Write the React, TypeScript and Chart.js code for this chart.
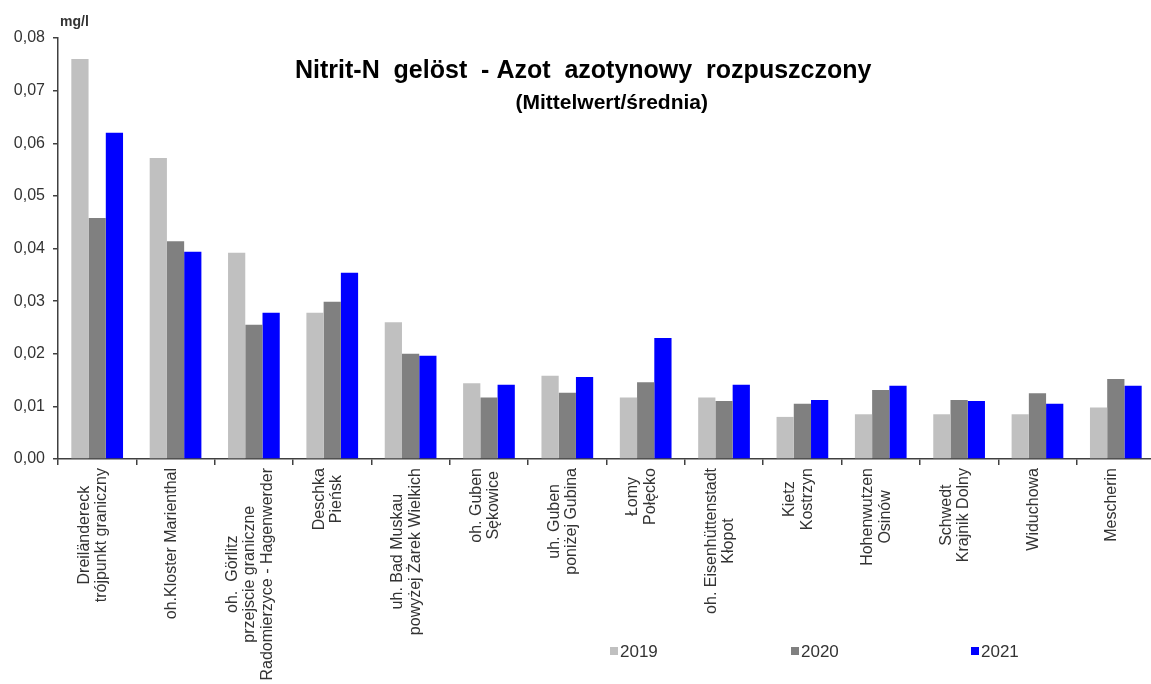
import React, { useEffect, useRef } from 'react';
import { Chart, registerables } from 'chart.js';

Chart.register(...registerables);

const categories: string[][] = [
  ['Dreiländereck', 'trójpunkt graniczny'],
  ['oh.Kloster Marienthal'],
  ['oh.  Görlitz', 'przejscie graniczne', 'Radomierzyce - Hagenwerder'],
  ['Deschka', 'Pieńsk'],
  ['uh. Bad Muskau', 'powyżej Żarek Wielkich'],
  ['oh. Guben', 'Sękowice'],
  ['uh. Guben', 'poniżej Gubina'],
  ['Łomy', 'Połęcko'],
  ['oh. Eisenhüttenstadt', 'Kłopot'],
  ['Kietz', 'Kostrzyn'],
  ['Hohenwutzen', 'Osinów'],
  ['Schwedt', 'Krajnik Dolny'],
  ['Widuchowa'],
  ['Mescherin'],
];

const seriesLabels = ['2019', '2020', '2021'];
const values2019 = [0.076, 0.0572, 0.0392, 0.0278, 0.026, 0.0144, 0.0158, 0.0117, 0.0117, 0.008, 0.0085, 0.0085, 0.0085, 0.0098];
const values2020 = [0.0458, 0.0414, 0.0255, 0.0299, 0.02, 0.0117, 0.0126, 0.0146, 0.011, 0.0105, 0.0131, 0.0112, 0.0125, 0.0152];
const values2021 = [0.062, 0.0394, 0.0278, 0.0354, 0.0196, 0.0141, 0.0156, 0.023, 0.0141, 0.0112, 0.0139, 0.011, 0.0105, 0.0139];

const titleText = 'Nitrit-N  gelöst  - Azot  azotynowy  rozpuszczony';
const subtitleText = '(Mittelwert/średnia)';
const unitText = 'mg/l';

const W = 1160;
const H = 684;
const FONT = "'Liberation Sans', Arial, sans-serif";
const AXIS_COLOR = '#404040';
const TEXT_COLOR = '#333333';

const drawPlugin = {
  id: 'customText',
  afterDraw(chart: any) {
    const ctx = chart.ctx as CanvasRenderingContext2D;
    const xs = chart.scales.x;
    const area = chart.chartArea;
    ctx.save();
    // category labels, rotated, lines centered in block
    ctx.fillStyle = TEXT_COLOR;
    ctx.font = `16px ${FONT}`;
    const lineH = 17.5;
    const top = area.bottom + 9;
    categories.forEach((lines, i) => {
      const cx = xs.getPixelForValue(i) - 4;
      const maxW = Math.max(...lines.map((l) => ctx.measureText(l).width));
      const cy = top + maxW / 2;
      const n = lines.length;
      lines.forEach((line, j) => {
        const lx = cx + (j - (n - 1) / 2) * lineH;
        ctx.save();
        ctx.translate(lx, cy);
        ctx.rotate(-Math.PI / 2);
        ctx.textAlign = 'center';
        ctx.textBaseline = 'middle';
        ctx.fillText(line, 0, 0);
        ctx.restore();
      });
    });

    // legend
    const legendX = [610, 791, 971];
    const legendY = 651;
    ctx.font = `17px ${FONT}`;
    ctx.textBaseline = 'middle';
    ctx.textAlign = 'left';
    chart.data.datasets.forEach((ds: any, i: number) => {
      const x = legendX[i];
      ctx.fillStyle = ds.backgroundColor;
      ctx.fillRect(x, legendY - 4, 8, 8);
      ctx.fillStyle = TEXT_COLOR;
      ctx.fillText(ds.label, x + 10, legendY + 1);
    });

    // title
    ctx.fillStyle = '#000000';
    ctx.font = `bold 25px ${FONT}`;
    ctx.textBaseline = 'alphabetic';
    ctx.textAlign = 'left';
    ctx.fillText(titleText, 295, 78);
    ctx.font = `bold 21px ${FONT}`;
    ctx.textAlign = 'right';
    ctx.fillText(subtitleText, 708, 109);

    // unit
    ctx.font = `bold 14px ${FONT}`;
    ctx.textAlign = 'left';
    ctx.fillStyle = TEXT_COLOR;
    ctx.fillText(unitText, 60, 26);
    ctx.restore();
  },
};

export default function App() {
  const ref = useRef<HTMLCanvasElement>(null);
  useEffect(() => {
    document.documentElement.style.overflow = 'hidden';
    document.body.style.overflow = 'hidden';
    document.body.style.margin = '0';
    const chart = new Chart(ref.current as HTMLCanvasElement, {
      type: 'bar',
      data: {
        labels: categories.map((c) => c.join(' ')),
        datasets: [
          { label: seriesLabels[0], data: values2019, backgroundColor: '#c0c0c0' },
          { label: seriesLabels[1], data: values2020, backgroundColor: '#808080' },
          { label: seriesLabels[2], data: values2021, backgroundColor: '#0000ff' },
        ],
      },
      options: {
        responsive: false,
        animation: false,
        layout: { padding: { top: 38, right: 5, left: 0, bottom: 0 } },
        datasets: { bar: { categoryPercentage: 0.66, barPercentage: 1.0 } },
        plugins: {
          legend: { display: false },
          title: { display: false },
          tooltip: { enabled: false },
        },
        scales: {
          x: {
            offset: true,
            grid: {
              display: true,
              drawOnChartArea: false,
              drawTicks: true,
              tickLength: 6,
              color: AXIS_COLOR,
              lineWidth: 1.5,
              offset: true,
            },
            border: { display: true, color: AXIS_COLOR, width: 1.5 },
            ticks: { display: false },
            afterFit: (scale: any) => {
              scale.height = H - 459;
            },
          },
          y: {
            min: 0,
            max: 0.08,
            grid: {
              display: true,
              drawOnChartArea: false,
              drawTicks: true,
              tickLength: 5,
              color: AXIS_COLOR,
              lineWidth: 1.5,
            },
            border: { display: true, color: AXIS_COLOR, width: 1.5 },
            ticks: {
              stepSize: 0.01,
              padding: 8,
              color: TEXT_COLOR,
              font: { family: FONT, size: 16 },
              callback: (v: any) => Number(v).toFixed(2).replace('.', ','),
            },
            afterFit: (scale: any) => {
              scale.width = 58;
            },
          },
        },
      },
      plugins: [drawPlugin],
    });
    return () => chart.destroy();
  }, []);
  return (
    <div style={{ position: 'absolute', left: 0, top: 0, width: W, height: H }}>
      <canvas ref={ref} width={W} height={H} style={{ display: 'block', width: W, height: H }} />
    </div>
  );
}
